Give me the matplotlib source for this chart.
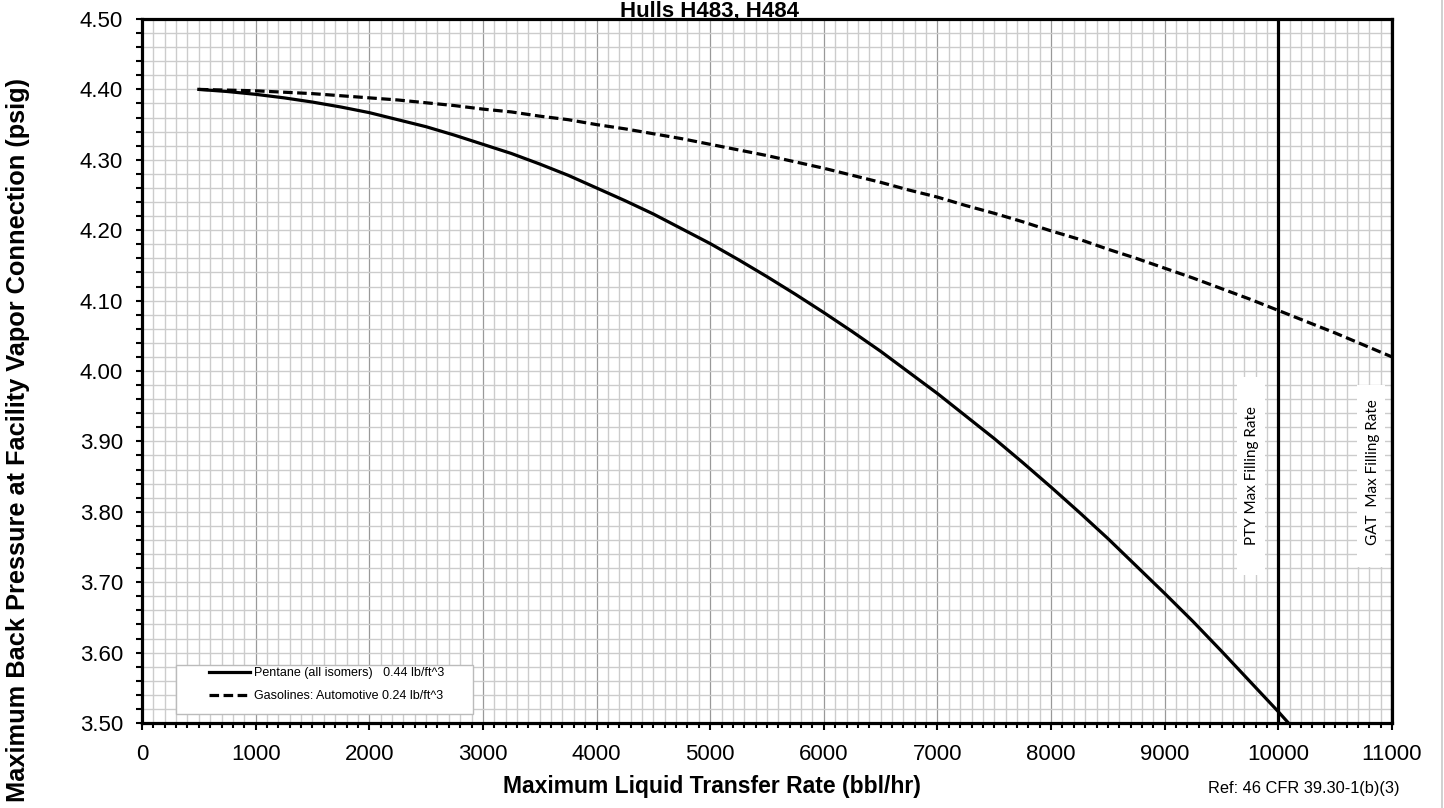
import matplotlib
matplotlib.use("Agg")
import matplotlib.pyplot as plt
from matplotlib.patches import Rectangle
from matplotlib.ticker import MultipleLocator, FormatStrFormatter

plt.rcParams["font.family"] = ["Liberation Sans", "DejaVu Sans"]

# flow rate (bbl/hr)
rate = [500, 750, 1000, 1250, 1500, 1750, 2000, 2250, 2500, 2750, 3000, 3250, 3500, 3750,
        4000, 4250, 4500, 4750, 5000, 5250, 5500, 5750, 6000, 6250, 6500, 6750, 7000, 7250,
        7500, 7750, 8000, 8250, 8500, 8750, 9000, 9250, 9500, 9750, 10000, 10250, 10500,
        10750, 11000]
# max back pressure (psig)
pentane = [4.400, 4.397, 4.393, 4.388, 4.382, 4.375, 4.367, 4.357, 4.347, 4.335, 4.322,
           4.309, 4.294, 4.278, 4.260, 4.242, 4.223, 4.202, 4.181, 4.158, 4.134, 4.109,
           4.083, 4.056, 4.028, 3.998, 3.968, 3.936, 3.904, 3.870, 3.835, 3.799, 3.762,
           3.723, 3.684, 3.644, 3.602, 3.559, 3.516, 3.471, 3.425, 3.378, 3.330]
gasoline = [4.400, 4.399, 4.398, 4.396, 4.394, 4.391, 4.388, 4.385, 4.381, 4.377, 4.372,
            4.368, 4.362, 4.357, 4.350, 4.344, 4.337, 4.330, 4.322, 4.314, 4.306, 4.297,
            4.288, 4.278, 4.268, 4.257, 4.247, 4.235, 4.224, 4.212, 4.199, 4.187, 4.173,
            4.160, 4.146, 4.132, 4.117, 4.102, 4.086, 4.070, 4.054, 4.037, 4.020]
pentane_label = "Pentane (all isomers)   0.44 lb/ft^3"
gasoline_label = "Gasolines: Automotive 0.24 lb/ft^3"
pty_max = 10000
gat_max = 11000

W, H = 1444, 808
fig = plt.figure(figsize=(W / 100, H / 100), dpi=100)
ax = fig.add_axes([142 / W, 85 / H, 1250 / W, 704 / H])

ax.set_xlim(0, 11000)
ax.set_ylim(3.5, 4.5)
ax.xaxis.set_major_locator(MultipleLocator(1000))
ax.xaxis.set_minor_locator(MultipleLocator(100))
ax.yaxis.set_major_locator(MultipleLocator(0.1))
ax.yaxis.set_minor_locator(MultipleLocator(0.02))
ax.yaxis.set_major_formatter(FormatStrFormatter("%.2f"))

ax.grid(which="minor", color="#cccccc", lw=1.0, zorder=0)
ax.grid(which="major", axis="y", color="#cccccc", lw=1.0, zorder=0)
ax.grid(which="major", axis="x", color="#999999", lw=0.9, zorder=0)
ax.set_axisbelow(True)

ax.tick_params(which="both", direction="out", width=1.5, labelsize=16)
ax.tick_params(axis="x", which="major", length=5, pad=10)
ax.tick_params(axis="x", which="minor", length=3.5)
ax.tick_params(axis="y", which="both", length=4.5, pad=9)
for s in ax.spines.values():
    s.set_linewidth(2.3)

ax.plot(rate, pentane, color="black", lw=2.3, label=pentane_label, zorder=4)
ax.plot(rate, gasoline, color="black", lw=2.3, linestyle=(0, (3, 1.4)),
        label=gasoline_label, zorder=4)
ax.axvline(pty_max, color="black", lw=2.3, zorder=5)
ax.axvline(gat_max, color="black", lw=2.3, zorder=5)

# filling-rate labels with white boxes
ax.add_patch(Rectangle((1237 / W, 1 - 575 / H), 28 / W, 198 / H, transform=fig.transFigure,
                       facecolor="white", edgecolor="none", zorder=2))
ax.add_patch(Rectangle((1357 / W, 1 - 567 / H), 28 / W, 182 / H, transform=fig.transFigure,
                       facecolor="white", edgecolor="none", zorder=2))
fig.text(1252 / W, 1 - 476 / H, "PTY Max Filling Rate", rotation=90, ha="center", va="center",
         fontsize=11, family=["Lato", "DejaVu Sans"], zorder=6)
fig.text(1373 / W, 1 - 472 / H, "GAT  Max Filling Rate", rotation=90, ha="center", va="center",
         fontsize=11, family=["Lato", "DejaVu Sans"], zorder=6)

# legend box
ax.add_patch(Rectangle((176 / W, 1 - 714 / H), 297 / W, 49 / H, transform=fig.transFigure,
                       facecolor="white", edgecolor="#bbbbbb", lw=1.0, zorder=6))
leg = ax.legend(loc="upper left", bbox_to_anchor=(209 / W, 1 - 667 / H),
                bbox_transform=fig.transFigure, frameon=False, fontsize=9,
                handlelength=3.3, handletextpad=0.3, labelspacing=0.9, borderaxespad=0,
                borderpad=0)
leg.set_zorder(7)

fig.text(709 / W, 1 - 1 / H, "Hulls H483, H484", ha="center", va="top",
         fontsize=16, fontweight="bold")
fig.text(18 / W, 1 - 440 / H, "Maximum Back Pressure at Facility Vapor Connection (psig)",
         rotation=90, ha="center", va="center", fontsize=18.3, fontweight="bold")
fig.text(712 / W, 1 - 787 / H, "Maximum Liquid Transfer Rate (bbl/hr)", ha="center",
         va="center", fontsize=16.5, fontweight="bold")
fig.text(1208 / W, 1 - 789 / H, "Ref: 46 CFR 39.30-1(b)(3)", ha="left", va="center", fontsize=11.8)

fig.add_artist(plt.Line2D([1441.5 / W, 1441.5 / W], [0, 1], transform=fig.transFigure,
                          color="#c8c8c8", lw=1.2))

fig.savefig("out.png", dpi=100)
